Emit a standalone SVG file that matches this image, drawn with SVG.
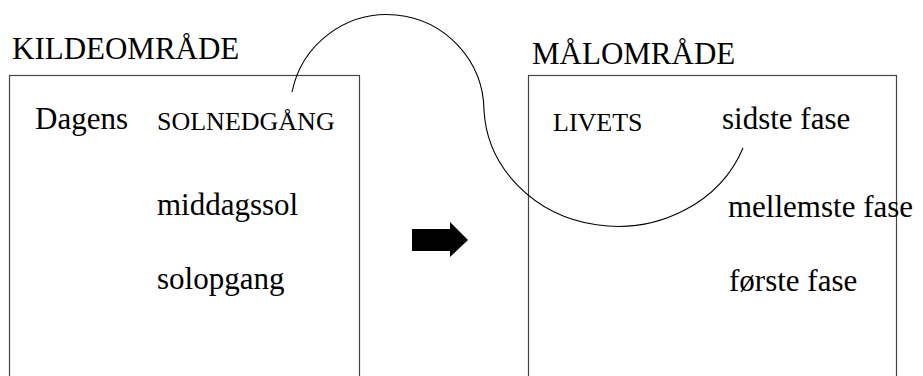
<svg xmlns="http://www.w3.org/2000/svg" width="923" height="376" viewBox="0 0 923 376">
<style>
.box{fill:none;stroke:#444;stroke-width:1.2}
.t{font-family:'Liberation Serif','DejaVu Serif',serif;fill:#000;font-size:31px}
.s{font-size:26px}
.con{fill:none;stroke:#000;stroke-width:1.1}
</style>
<rect width="923" height="376" fill="#fff"/>
<g id="source" font-family="Liberation Serif">
<text class="t" x="12" y="59">KILDEOMRÅDE</text>
<rect class="box" x="9.5" y="75.5" width="350" height="320"/>
<text class="t" x="35" y="129">Dagens</text>
<text class="t s" x="157" y="130">SOLNEDGÅNG</text>
<text class="t" x="157" y="215">middagssol</text>
<text class="t" x="157" y="289">solopgang</text>
</g>
<g id="target" font-family="Liberation Serif">
<text class="t" x="532" y="64">MÅLOMRÅDE</text>
<rect class="box" x="528.5" y="75.5" width="368" height="320"/>
<text class="t s" x="553" y="131">LIVETS</text>
<text class="t" x="722" y="129">sidste fase</text>
<text class="t" x="728" y="217">mellemste fase</text>
<text class="t" x="729" y="291">første fase</text>
</g>
<g id="connectors">
<path class="con" d="M 292 92 A 97 97 0 0 1 484 110 A 134 122 0 0 0 743 148"/>
<polygon id="arrow" points="412,229 450,229 450,222 468,240 450,257 450,251 412,251" fill="#000"/>
</g>
</svg>
